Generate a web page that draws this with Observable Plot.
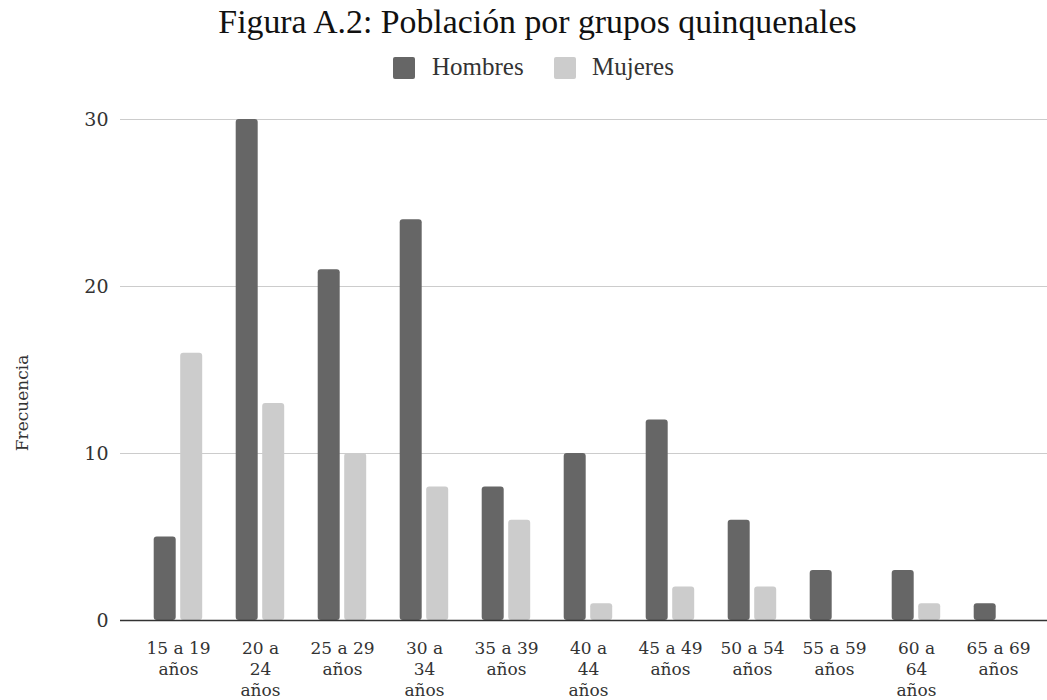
<!DOCTYPE html>
<html>
<head>
<meta charset="utf-8">
<script src="https://cdn.jsdelivr.net/npm/d3@7"></script>
<script src="https://cdn.jsdelivr.net/npm/@observablehq/plot@0.6"></script>
<style>
  html, body { margin: 0; padding: 0; background: #fff; }
  #wrap { position: relative; width: 1047px; height: 700px; overflow: hidden; }
  #title { position: absolute; left: 14px; width: 1047px; top: 4.5px; text-align: center;
           font-family: "Liberation Serif", serif; font-size: 33.8px; line-height: 1; color: #111; white-space: nowrap; }
  #legend { position: absolute; top: 0; left: 0; width: 1047px; height: 90px; }
  .sw { position: absolute; width: 22px; height: 22px; top: 57px; border-radius: 2px; }
  .lt { position: absolute; top: 54px; font-family: "Liberation Serif", serif; font-size: 25px; line-height: 1; color: #333; white-space: nowrap; }
  #ylabel { position: absolute; left: 22px; top: 403px; transform: translate(-50%, -50%) rotate(-90deg);
            font-family: "DejaVu Serif", serif; font-size: 17px; line-height: 1; color: #333; white-space: nowrap; }
  #chart { position: absolute; left: 0; top: 90px; }
</style>
</head>
<body>
<div id="wrap">
  <div id="title"></div>
  <div id="legend"></div>
  <div id="chart"></div>
  <div id="ylabel"></div>
</div>
<script>
const titleText = "Figura A.2: Población por grupos quinquenales";
const series = ["Hombres", "Mujeres"];
const seriesColors = ["#666666", "#cccccc"];
const groups = ["15 a 19 años", "20 a 24 años", "25 a 29 años", "30 a 34 años", "35 a 39 años",
                "40 a 44 años", "45 a 49 años", "50 a 54 años", "55 a 59 años", "60 a 64 años", "65 a 69 años"];
const tickLabels = ["15 a 19\naños", "20 a\n24\naños", "25 a 29\naños", "30 a\n34\naños", "35 a 39\naños",
                    "40 a\n44\naños", "45 a 49\naños", "50 a 54\naños", "55 a 59\naños", "60 a\n64\naños", "65 a 69\naños"];
const hombres = [5, 30, 21, 24, 8, 10, 12, 6, 3, 3, 1];
const mujeres = [16, 13, 10, 8, 6, 1, 2, 2, 0, 1, 0];
const yTicks = [0, 10, 20, 30];
const yLabel = "Frecuencia";

document.getElementById("title").textContent = titleText;
document.getElementById("ylabel").textContent = yLabel;

// legend
const legend = document.getElementById("legend");
const legendPos = [{sw: 393, tx: 432}, {sw: 554, tx: 592}];
series.forEach((s, i) => {
  const sw = document.createElement("div");
  sw.className = "sw"; sw.style.left = legendPos[i].sw + "px"; sw.style.background = seriesColors[i];
  const t = document.createElement("div");
  t.className = "lt"; t.style.left = legendPos[i].tx + "px"; t.textContent = s;
  legend.appendChild(sw); legend.appendChild(t);
});

const dataH = groups.map((g, i) => ({group: g, sexo: series[0], valor: hombres[i]}));
const dataM = groups.map((g, i) => ({group: g, sexo: series[1], valor: mujeres[i]}));

const chart = Plot.plot({
  width: 1047,
  height: 610,
  marginLeft: 120,
  marginRight: 0,
  marginTop: 29,
  marginBottom: 80,
  style: {fontFamily: "DejaVu Serif", fontSize: "19px", color: "#333", background: "transparent"},
  x: {domain: groups, range: [134.3, 1041.4], padding: 0, axis: null},
  y: {domain: [0, 30], ticks: yTicks, tickSize: 0, tickPadding: 12, label: null},
  color: {domain: series, range: seriesColors},
  marks: [
    Plot.ruleY(yTicks.filter(d => d !== 0), {stroke: "#cccccc", strokeWidth: 1}),
    Plot.barY(dataH, {x: "group", y: "valor", fill: "sexo", insetLeft: 16.7, insetRight: 43.3, rx: 3}),
    Plot.barY(dataM, {x: "group", y: "valor", fill: "sexo", insetLeft: 43.2, insetRight: 16.8, rx: 3}),
    Plot.ruleY([0], {stroke: "#333333", strokeWidth: 1.6}),
    Plot.text(groups, {x: d => d, text: (d, i) => tickLabels[i], frameAnchor: "bottom", lineAnchor: "top",
                       dy: 19, lineHeight: 1.22, fontSize: 17, fill: "#333"})
  ]
});
document.getElementById("chart").appendChild(chart);
</script>
</body>
</html>
